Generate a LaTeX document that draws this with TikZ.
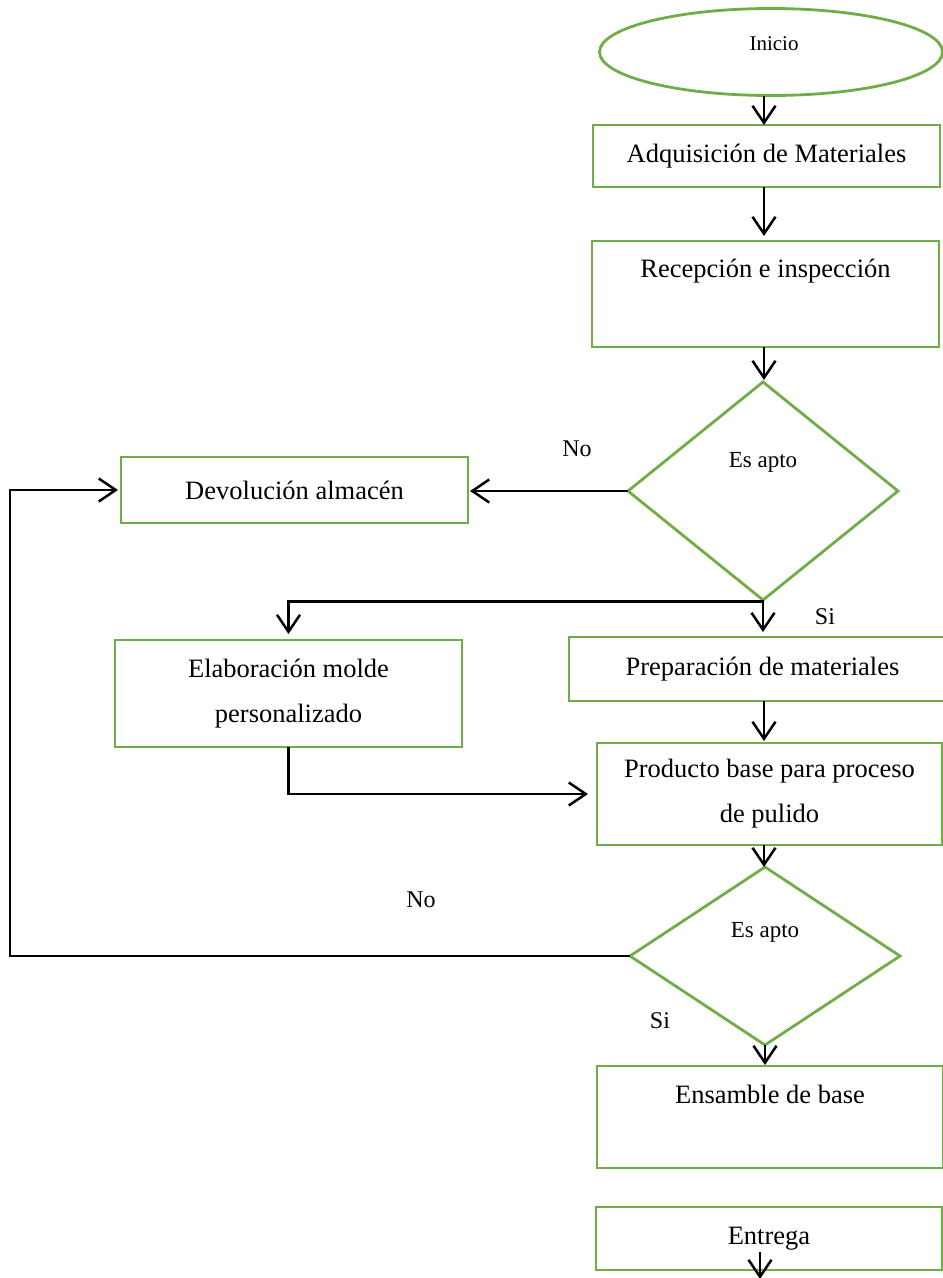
\documentclass[tikz,border=0pt]{standalone}
\usepackage{fontspec}
\setmainfont{Liberation Serif}
\usetikzlibrary{shapes.geometric,arrows.meta}
\definecolor{boxgreen}{RGB}{112,173,71}
\begin{document}
\begin{tikzpicture}[x=1pt,y=-1pt,
  box/.style={draw=boxgreen, line width=2.8pt, rectangle, inner sep=0pt, outer sep=0pt, align=center, font=\fontsize{26.5}{45}\selectfont},
  decision/.style={draw=boxgreen, line width=2.8pt, diamond, inner sep=0pt, outer sep=0pt},
  arr/.style={draw=black, line width=2.5pt, -{Straight Barb[length=17pt,width=23pt]}},
  plain/.style={draw=black, line width=1.4pt},
  lab/.style={font=\fontsize{24}{28}\selectfont, inner sep=0pt},
  smalltext/.style={font=\fontsize{22}{26}\selectfont, inner sep=0pt}]
\useasboundingbox (0,0) rectangle (943,1278);

% shapes
\node[draw=boxgreen, line width=2.8pt, ellipse, minimum width=343pt, minimum height=87pt, inner sep=0pt, outer sep=0pt] (start) at (771,52) {};
\node[smalltext, font=\fontsize{21}{25}\selectfont] (startT) at (774,44) {Inicio};
\node[box, minimum width=347pt, minimum height=62pt] (adq) at (766.5,156) {Adquisición de Materiales};
\node[box, minimum width=347pt, minimum height=106pt] (rec) at (765.5,294) {Recepción e inspección\\\vphantom{Recepción e inspección}};
\node[decision, minimum width=270pt, minimum height=218pt] (d1) at (763,491) {};
\node[smalltext, font=\fontsize{23}{27}\selectfont] (d1T) at (763,462) {Es apto};
\node[box, minimum width=347pt, minimum height=66pt] (dev) at (294.5,490) {Devolución almacén};
\node[box, minimum width=347pt, minimum height=107pt] (elab) at (288.5,693.5) {Elaboración molde\\personalizado};
\node[box, minimum width=387pt, minimum height=64pt] (prep) at (762.5,669) {Preparación de materiales};
\node[box, minimum width=345pt, minimum height=102pt] (prod) at (769.5,794) {Producto base para proceso\\de pulido};
\node[decision, minimum width=270pt, minimum height=178pt] (d2) at (765,956) {};
\node[smalltext, font=\fontsize{23}{27}\selectfont] (d2T) at (765,932) {Es apto};
\node[box, minimum width=346pt, minimum height=102pt] (ens) at (770,1117) {Ensamble de base\\\vphantom{Ensamble de base}};
\node[box, minimum width=346pt, minimum height=63pt] (ent) at (769,1238.5) {Entrega};

% labels
\node[lab] (no1) at (577,449) {No};
\node[lab] (si1) at (825,617) {Si};
\node[lab] (no2) at (421,900) {No};
\node[lab] (si2) at (660,1021) {Si};

% helper coordinates
\coordinate (col) at (764,0);
\coordinate (loopA) at (155,955);
\coordinate (loopB) at (10,955);
\coordinate (endpt) at (760,1279);

% connectors
\draw[arr] (col |- start.south) -- (col |- adq.north);
\draw[arr, shorten >=5pt] (col |- adq.south) -- (col |- rec.north);
\draw[arr, shorten >=2pt] (col |- rec.south) -- (col |- d1.north);
\draw[arr, shorten >=2pt] (d1.west) -- (d1.west -| dev.east);
\draw[arr, shorten >=5pt] (d1.south) -- (prep.north -| d1.south);
\draw[arr, shorten >=6pt] ([yshift=-1.5pt]d1.south) -| (elab.north);
\draw[arr, shorten >=9pt] (elab.south) |- (prod.west);
\draw[arr, shorten >=2pt] (col |- prep.south) -- (col |- prod.north);
\draw[arr] (col |- prod.south) -- (col |- d2.north);
\draw[arr, shorten >=1pt] (d2.south) -- (d2.south |- ens.north);
\draw[plain] (d2.west) -- (d2.west -| loopA);
\draw[arr, shorten >=3pt] (d2.west -| loopA) -- (d2.west -| loopB) |- (dev.west);
\draw[arr] (endpt |- ent.south) ++(0,-18) -- (endpt);
\end{tikzpicture}
\end{document}
